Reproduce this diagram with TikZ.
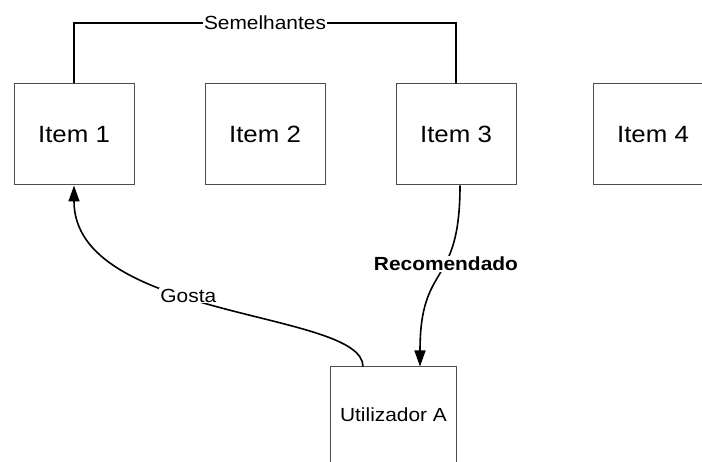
\documentclass[tikz,border=0pt]{standalone}
\usepackage{fontspec}
\setmainfont{Liberation Sans}[FakeStretch=1.1]
\usepackage{tikz}
\usetikzlibrary{arrows.meta,positioning,calc}

\begin{document}
\begin{tikzpicture}[x=1pt, y=-1pt, >={Triangle[length=16pt,width=11pt]}]
    \tikzset{
        item/.style={draw=black!70, rectangle, line width=1pt, minimum width=120pt, minimum height=101pt, inner sep=0pt, align=center, font=\fontsize{23.5}{26}\selectfont},
        user/.style={draw=black!70, rectangle, line width=1pt, minimum width=126pt, minimum height=96pt, inner sep=0pt, align=center, font=\fontsize{19}{22}\selectfont},
        lbl/.style={fill=white, inner sep=1pt, font=\fontsize{19}{22}\selectfont},
        line/.style={draw, black, line width=1.6pt}
    }
    \useasboundingbox (0,0) rectangle (702,462);

    % Items (top row)
    \node[item] (item1) at (74,134.5) {Item 1};
    \node[item] (item2) at (265,134.5) {Item 2};
    \node[item] (item3) at (456,134.5) {Item 3};
    \node[item] (item4) at (653,134.5) {Item 4};

    % User (bottom)
    \node[user] (user) at (393.5,415) {Utilizador A};

    % Similarity between items
    \coordinate (top) at (0,23);
    \path[line] (item1.north) -- (item1.north |- top) -- node[lbl] {Semelhantes} (item3.north |- top) -- (item3.north);

    % User likes / gets recommendation
    \path[line, ->] ([xshift=-30.5pt]user.north) .. controls (363,310) and (74,320) .. node[lbl, pos=0.57] {Gosta} (item1.south);
    \path[line, ->] ([xshift=4pt]item3.south) .. controls (460,290) and (420,260) .. node[lbl, pos=0.4, font=\fontsize{19}{22}\selectfont\bfseries] {Recomendado} ([xshift=26.5pt]user.north);

\end{tikzpicture}
\end{document}
